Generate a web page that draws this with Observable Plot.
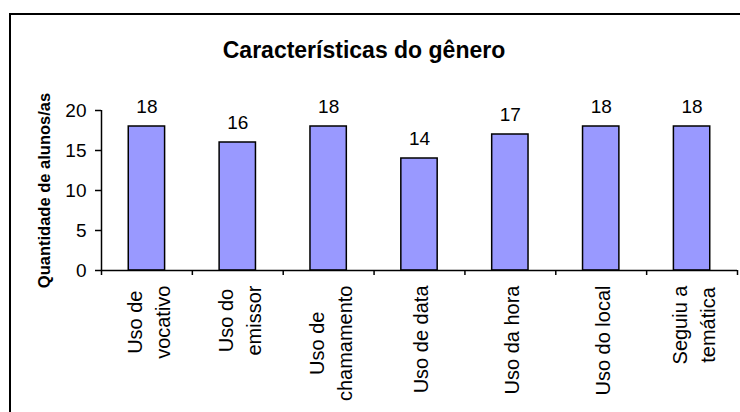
<!DOCTYPE html>
<html><head><meta charset="utf-8">
<script src="https://cdn.jsdelivr.net/npm/d3@7"></script>
<script src="https://cdn.jsdelivr.net/npm/@observablehq/plot@0.6"></script>
<style>
html,body{margin:0;padding:0;background:#fff;overflow:hidden;width:740px;height:412px}
#wrap{position:relative;width:740px;height:412px;overflow:hidden}
#border{position:absolute;left:9px;top:13px;width:800px;height:500px;border:2px solid #000;box-sizing:border-box}
#title{position:absolute;left:0;width:728px;top:37px;line-height:23px;text-align:center;font:bold 23px 'Liberation Sans',Arial,sans-serif;color:#000}
#chart{position:absolute;left:0;top:0}
</style></head>
<body><div id="wrap"><div id="border"></div><div id="chart"></div><div id="title">Características do gênero</div></div>
<script>
const categories = ["Uso de\nvocativo", "Uso do\nemissor", "Uso de\nchamamento", "Uso de data", "Uso da hora", "Uso do local", "Seguiu a\ntemática"];
const values = [18, 16, 18, 14, 17, 18, 18];
const yTicks = [0, 5, 10, 15, 20];
const yLabel = "Quantidade de alunos/as";

const FONT = "'Liberation Sans', Arial, sans-serif";
const ctx = document.createElement("canvas").getContext("2d");
ctx.font = "20px " + FONT;
const maxLen = s => Math.max(...s.split("\n").map(l => ctx.measureText(l).width));

const labelMarks = categories.map((c, i) =>
  Plot.text([c], {
    x: () => i + 0.5, text: d => d, frameAnchor: "bottom", rotate: -90,
    textAnchor: "middle", lineAnchor: "middle", lineHeight: 1.4, fontSize: 20,
    dy: 15 + maxLen(c) / 2
  })
);

const chart = Plot.plot({
  width: 740, height: 412,
  marginTop: 110, marginBottom: 142, marginLeft: 101, marginRight: 3,
  style: {fontFamily: FONT, color: "#000", background: "transparent"},
  x: {domain: [0, 7]},
  y: {domain: [0, 20]},
  marks: [
    Plot.rect(values, {x1: (d, i) => i + 0.3, x2: (d, i) => i + 0.7, y1: 0, y2: d => d, fill: "#9999ff", stroke: "#000", strokeWidth: 1.5}),
    Plot.text(values, {x: (d, i) => i + 0.5, y: d => d, text: d => String(d), dy: -14, lineAnchor: "bottom", fontSize: 19}),
    Plot.axisY({ticks: yTicks, tickSize: 6, tickPadding: 9, fontSize: 19, label: null, strokeWidth: 1.5}),
    Plot.axisX({ticks: d3.range(8), tickFormat: () => "", tickSize: 5, label: null, strokeWidth: 1.5}),
    Plot.ruleX([0], {strokeWidth: 1.5}),
    Plot.ruleY([0], {strokeWidth: 1.5}),
    ...labelMarks,
    Plot.text([yLabel], {text: d => d, frameAnchor: "left", rotate: -90, dx: -57, fontWeight: "bold", fontSize: 16.5, textAnchor: "middle", lineAnchor: "middle"})
  ]
});
document.getElementById("chart").appendChild(chart);
</script>
</body></html>
